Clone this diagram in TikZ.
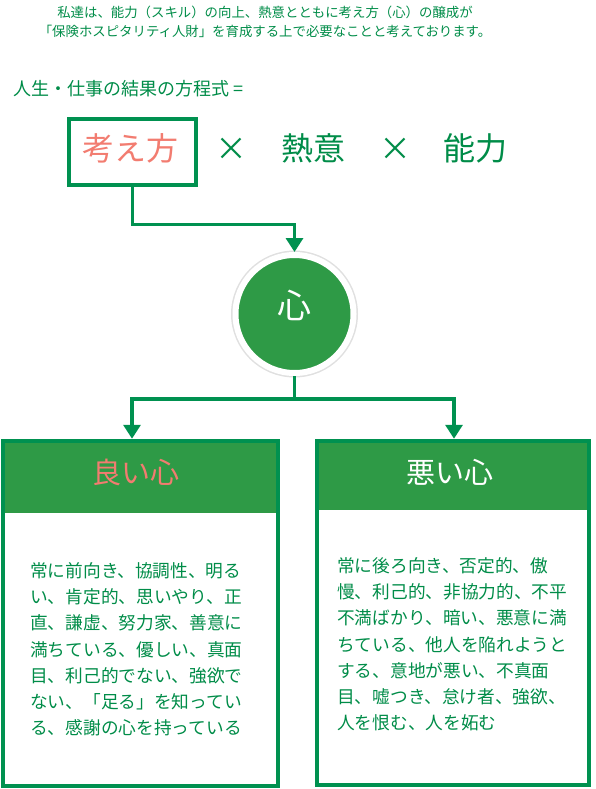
\documentclass[tikz,border=0pt]{standalone}
\usepackage{fontspec}
\setmainfont{Noto Sans CJK JP}
\usetikzlibrary{arrows.meta}
\definecolor{lgreen}{RGB}{0,145,80}
\definecolor{fgreen}{RGB}{46,154,70}
\definecolor{salmon}{RGB}{242,124,112}
\definecolor{tgreen}{RGB}{0,140,72}
\begin{document}
\begin{tikzpicture}[x=1pt,y=-1pt,
  conn/.style={draw=lgreen, line width=3.3pt},
  arr/.style={conn, -{Triangle[width=17pt,length=14pt]}},
  framebox/.style={draw=lgreen, line width=4.5pt, rectangle, inner sep=0pt},
  headfill/.style={fill=fgreen},
  txt/.style={inner sep=0pt, text=tgreen},
  bodytxt/.style={txt, anchor=north west, align=left, font=\fontsize{17.7}{26.3}\selectfont},
  bigtxt/.style={txt, font=\fontsize{32}{36}\selectfont},
  titletxt/.style={inner sep=0pt, font=\fontsize{29}{32}\selectfont}
]
\useasboundingbox (0,0) rectangle (595,789);

% header text
\node[txt, anchor=base, font=\fontsize{13.4}{16}\selectfont] (intro1) at (265,18) {私達は、能力（スキル）の向上、熱意とともに考え方（心）の醸成が};
\node[txt, anchor=base, font=\fontsize{13.4}{16}\selectfont] (intro2) at (265,37) {「保険ホスピタリティ人財」を育成する上で必要なことと考えております。};

\node[txt, anchor=base west, font=\fontsize{18}{20}\selectfont] (eq) at (13,96) {人生・仕事の結果の方程式 =};

% formula
\node[framebox, minimum width=127pt, minimum height=66pt] (kb) at (132.5,152) {};
\node[bigtxt, text=salmon] (kt) at (130,148) {考え方};
\node[bigtxt] (x1) at (231,149) {×};
\node[bigtxt] (netsui) at (313,148) {熱意};
\node[bigtxt] (x2) at (395,149) {×};
\node[bigtxt] (nouryoku) at (475,148) {能力};

% circle
\node[circle, minimum size=118pt, inner sep=0pt, fill=fgreen, draw=white, line width=6pt,
      preaction={draw=black!12, line width=9pt}] (kokoro) at (294.5,314) {};
\node[inner sep=0pt, text=white, font=\fontsize{34}{36}\selectfont] (kokorotxt) at (294,305) {心};

\draw[arr] (kb.south) -- ++(0,37) -| (kokoro.north);

% boxes
\fill[headfill] (3,441) rectangle (278,513);
\fill[headfill] (317,441) rectangle (589,510);
\node[framebox, minimum width=275pt, minimum height=345pt] (good) at (140.5,613.5) {};
\node[framebox, minimum width=272pt, minimum height=344pt] (bad) at (453,613) {};

\node[titletxt, text=salmon] (goodtitle) at (136,472) {良い心};
\node[titletxt, text=white] (badtitle) at (450,472) {悪い心};

\node[bodytxt] (goodtext) at (30,562) {常に前向き、協調性、明る\\い、肯定的、思いやり、正\\直、謙虚、努力家、善意に\\満ちている、優しい、真面\\目、利己的でない、強欲で\\ない、「足る」を知ってい\\る、感謝の心を持っている};
\node[bodytxt] (badtext) at (337,557) {常に後ろ向き、否定的、傲\\慢、利己的、非協力的、不平\\不満ばかり、暗い、悪意に満\\ちている、他人を陥れようと\\する、意地が悪い、不真面\\目、嘘つき、怠け者、強欲、\\人を恨む、人を妬む};

% connectors to boxes
\coordinate (split) at (294.5,399);
\draw[conn] (kokoro.south) -- (split);
\draw[arr] (split) -| ([xshift=-8.5pt]good.north);
\draw[arr] (split) -| ([xshift=1pt]bad.north);
\end{tikzpicture}
\end{document}
